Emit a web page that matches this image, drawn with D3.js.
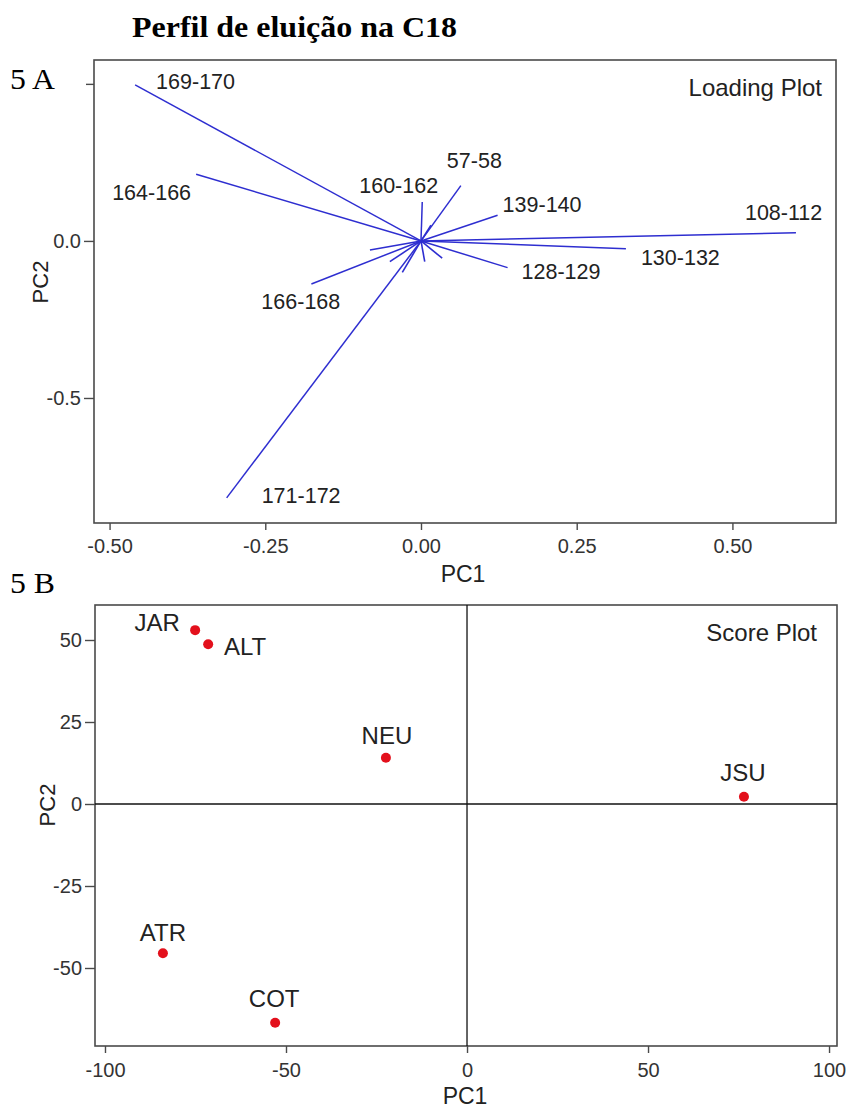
<!DOCTYPE html>
<html><head><meta charset="utf-8">
<script src="https://cdn.jsdelivr.net/npm/d3@7"></script>
<style>body{margin:0;background:#fff}</style>
</head><body><svg id="fig" width="846" height="1108"></svg>
<script>
// Loading plot: retention windows and their loadings on PC1 / PC2
const variables  = ["169-170","164-166","171-172","166-168","108-112","130-132","128-129","139-140","57-58","160-162"];
const loadingPC1 = [-0.459, -0.361, -0.312, -0.176, 0.602, 0.329, 0.139, 0.123, 0.064, 0.002];
const loadingPC2 = [ 0.497,  0.212, -0.818, -0.137, 0.026, -0.025, -0.085, 0.082, 0.176, 0.124];
// short, unlabelled loadings clustered round the origin
const minorPC1 = [-0.082, -0.050, 0.006, 0.034, 0.016, -0.030];
const minorPC2 = [-0.029, -0.066, -0.066, -0.055, 0.050, -0.100];

// Score plot: samples
const samples  = ["JAR","ALT","NEU","JSU","ATR","COT"];
const scorePC1 = [-75.1, -71.5, -22.4, 76.5, -84.0, -53.0];
const scorePC2 = [ 53.0,  48.7,  14.1,  2.2, -45.5, -66.7];

// Tick values and labels
const loadXTicks = [-0.5, -0.25, 0, 0.25, 0.5];
const loadXTickLabels = ["-0.50","-0.25","0.00","0.25","0.50"];
const loadYTicks = [0.5, 0, -0.5];
const loadYTickLabels = ["0.5","0.0","-0.5"];
const scoreXTicks = [-100, -50, 0, 50, 100];
const scoreXTickLabels = ["-100","-50","0","50","100"];
const scoreYTicks = [50, 25, 0, -25, -50];
const scoreYTickLabels = ["50","25","0","-25","-50"];

const SANS = "'Liberation Sans', Arial, Helvetica, sans-serif";
const SERIF = "'Liberation Serif', 'Times New Roman', serif";
const INK = "#222";
const FRAME = "#4a4a4a";

const svg = d3.select("#fig");
svg.append("rect").attr("width", 846).attr("height", 1108).attr("fill", "#fff");

function axes(g, x, y, xt, xl, yt, yl, xPad, ySize) {
  const [x0, x1] = x.range(), [y0, y1] = y.range();
  const ax = g.append("g").attr("transform", `translate(0,${y0})`)
    .call(d3.axisBottom(x).tickValues(xt).tickFormat((d, i) => xl[i]).tickSize(7).tickPadding(xPad));
  const ay = g.append("g").attr("transform", `translate(${x0},0)`)
    .call(d3.axisLeft(y).tickValues(yt).tickFormat((d, i) => yl[i]).tickSize(ySize).tickPadding(3));
  [ax, ay].forEach(a => {
    a.select(".domain").remove();
    a.selectAll("line").attr("stroke", FRAME).attr("stroke-width", 1.4);
    a.selectAll("text").attr("font-family", SANS).attr("font-size", 20).attr("fill", "#333");
  });
  g.append("rect").attr("x", x0).attr("y", y1).attr("width", x1 - x0).attr("height", y0 - y1)
    .attr("fill", "none").attr("stroke", FRAME).attr("stroke-width", 1.6);
}

// ---------- Title ----------
svg.append("text").attr("x", 132).attr("y", 37)
  .attr("font-family", SERIF).attr("font-weight", "bold").attr("font-size", 29).attr("fill", "#000")
  .attr("textLength", 325).attr("lengthAdjust", "spacingAndGlyphs")
  .text("Perfil de eluição na C18");

// ---------- 5 A : loading plot ----------
const xA = d3.scaleLinear().domain([-0.525, 0.6663]).range([94, 836]);
const yA = d3.scaleLinear().domain([-0.898, 0.576]).range([523, 60]);
const gA = svg.append("g");
axes(gA, xA, yA, loadXTicks, loadXTickLabels, loadYTicks, loadYTickLabels, 9, 10);

const vecColor = "#2e2ed0";
gA.append("g").selectAll("line").data(minorPC1).join("line")
  .attr("x1", xA(0)).attr("y1", yA(0))
  .attr("x2", (d, i) => xA(d)).attr("y2", (d, i) => yA(minorPC2[i]))
  .attr("stroke", vecColor).attr("stroke-width", 1.6);
gA.append("g").selectAll("line").data(variables).join("line")
  .attr("x1", xA(0)).attr("y1", yA(0))
  .attr("x2", (d, i) => xA(loadingPC1[i])).attr("y2", (d, i) => yA(loadingPC2[i]))
  .attr("stroke", vecColor).attr("stroke-width", 1.5);

// label placement relative to the vector tip (text starts at dx, baseline at dy)
const loadLabelOffset = {
  "169-170": [21, 4], "164-166": [-84, 26], "171-172": [35, 5], "166-168": [-50, 25],
  "108-112": [-51, -13], "130-132": [15, 16], "128-129": [14, 11], "139-140": [5, -3],
  "57-58": [-14, -18], "160-162": [-63, -9]
};
gA.append("g").selectAll("text").data(variables).join("text")
  .attr("x", (d, i) => xA(loadingPC1[i]) + loadLabelOffset[d][0])
  .attr("y", (d, i) => yA(loadingPC2[i]) + loadLabelOffset[d][1])
  .attr("font-family", SANS).attr("font-size", 21.5).attr("fill", INK)
  .text(d => d);

gA.append("text").attr("x", 822).attr("y", 96).attr("text-anchor", "end")
  .attr("font-family", SANS).attr("font-size", 24).attr("fill", INK).text("Loading Plot");
gA.append("text").attr("x", 463).attr("y", 582).attr("text-anchor", "middle")
  .attr("font-family", SANS).attr("font-size", 23).attr("fill", INK).text("PC1");
gA.append("text").attr("transform", "translate(48,282) rotate(-90)").attr("text-anchor", "middle")
  .attr("font-family", SANS).attr("font-size", 22).attr("fill", INK).text("PC2");

// panel tag sits over the top tick label
svg.append("rect").attr("x", 0).attr("y", 62).attr("width", 86).attr("height", 32).attr("fill", "#fff");
svg.append("text").attr("x", 10).attr("y", 89)
  .attr("font-family", SERIF).attr("font-size", 30).attr("fill", "#000")
  .attr("textLength", 45).attr("lengthAdjust", "spacingAndGlyphs").text("5 A");

// ---------- 5 B : score plot ----------
const xB = d3.scaleLinear().domain([-102.76, 102.2]).range([95, 837]);
const yB = d3.scaleLinear().domain([-73.78, 60.67]).range([1046, 605]);
const gB = svg.append("g");
axes(gB, xB, yB, scoreXTicks, scoreXTickLabels, scoreYTicks, scoreYTickLabels, 10, 10);

gB.append("line").attr("x1", xB(0)).attr("x2", xB(0)).attr("y1", 605).attr("y2", 1046)
  .attr("stroke", "#111").attr("stroke-width", 1.3);
gB.append("line").attr("x1", 95).attr("x2", 837).attr("y1", yB(0)).attr("y2", yB(0))
  .attr("stroke", "#111").attr("stroke-width", 1.3);

gB.append("g").selectAll("circle").data(samples).join("circle")
  .attr("cx", (d, i) => xB(scorePC1[i])).attr("cy", (d, i) => yB(scorePC2[i]))
  .attr("r", 5).attr("fill", "#e3101c");

const scoreLabelOffset = {
  JAR: [-38, 1], ALT: [37, 11], NEU: [1, -14], JSU: [-1, -16], ATR: [0, -12], COT: [-1, -16]
};
gB.append("g").selectAll("text").data(samples).join("text")
  .attr("x", (d, i) => xB(scorePC1[i]) + scoreLabelOffset[d][0])
  .attr("y", (d, i) => yB(scorePC2[i]) + scoreLabelOffset[d][1])
  .attr("text-anchor", "middle")
  .attr("font-family", SANS).attr("font-size", 24).attr("fill", INK)
  .text(d => d);

gB.append("text").attr("x", 817).attr("y", 641).attr("text-anchor", "end")
  .attr("font-family", SANS).attr("font-size", 24).attr("fill", INK).text("Score Plot");
gB.append("text").attr("x", 465).attr("y", 1104).attr("text-anchor", "middle")
  .attr("font-family", SANS).attr("font-size", 23).attr("fill", INK).text("PC1");
gB.append("text").attr("transform", "translate(55,805) rotate(-90)").attr("text-anchor", "middle")
  .attr("font-family", SANS).attr("font-size", 22).attr("fill", INK).text("PC2");

svg.append("text").attr("x", 10).attr("y", 593)
  .attr("font-family", SERIF).attr("font-size", 30).attr("fill", "#000")
  .attr("textLength", 45).attr("lengthAdjust", "spacingAndGlyphs").text("5 B");
</script></body></html>
